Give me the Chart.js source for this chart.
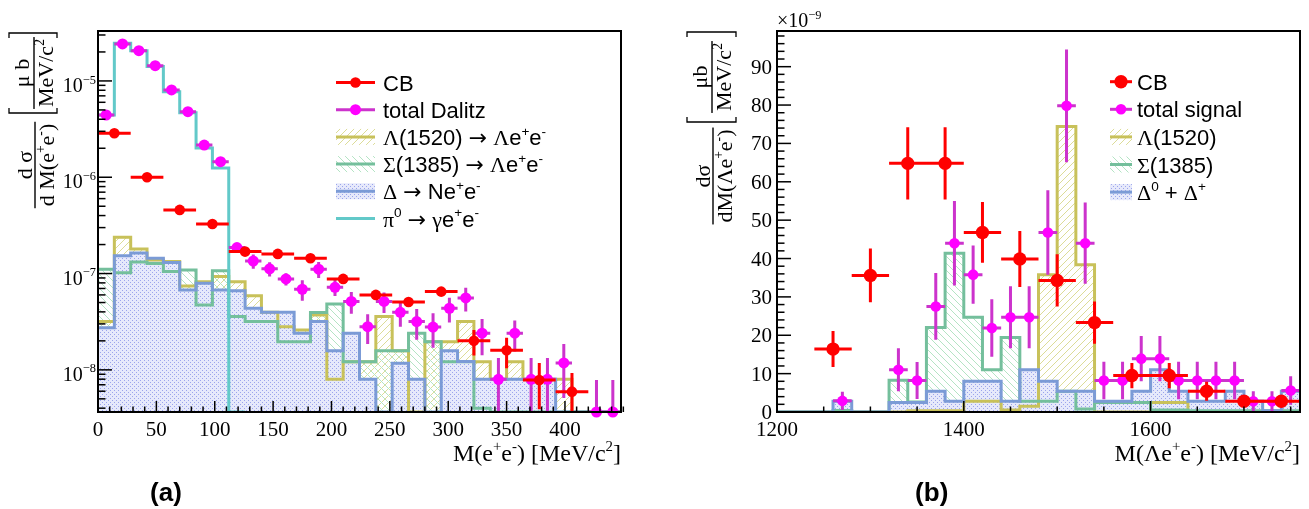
<!DOCTYPE html>
<html>
<head>
<meta charset="utf-8">
<script src="https://cdn.jsdelivr.net/npm/chart.js@4.4.1/dist/chart.umd.min.js"></script>
<style>
  html, body { margin: 0; padding: 0; background: #fff; overflow: hidden; }
  #wrap { position: relative; width: 1309px; height: 509px; }
  canvas { position: absolute; top: 0; }
</style>
</head>
<body>
<div id="wrap">
  <canvas id="ca" width="655" height="509" style="left:0"></canvas>
  <canvas id="cb" width="654" height="509" style="left:655px"></canvas>
</div>
<script>
const SERIF = '"Liberation Serif", "DejaVu Serif", serif';
const SANS = '"Liberation Sans", Arial, sans-serif';
const ARROW = '"DejaVu Sans", sans-serif';

// ---------- panel (a): M(e+e-), 32 bins of 14 MeV ----------
const binWidthA = 14;
const cbWidthA = 28;
const dalitzA = [4.43e-6, 2.42e-5, 2.06e-5, 1.44e-5, 8.07e-6, 4.8e-6, 2.16e-6, 1.45e-6,
  1.86e-7, 1.35e-7, 1.12e-7, 8.8e-8, 6.87e-8, 1.11e-7, 7.2e-8, 5.13e-8,
  2.81e-8, 5.13e-8, 3.96e-8, 3.17e-8, 2.78e-8, 4.36e-8, 5.58e-8, 2.40e-8,
  7.98e-9, 2.40e-8, 7.98e-9, 7.98e-9, 1.18e-8, null, 0, 0];
const dalitzErrA = [0, 0, 0, 0, 0, 0, 0, 0,
  2.2e-8, 2.3e-8, 1.9e-8, 1.27e-8, 1.65e-8, 2.1e-8, 1.37e-8, 1.31e-8,
  0.96e-8, 1.24e-8, 1.15e-8, 1.12e-8, 1.08e-8, 1.25e-8, 1.55e-8, 0.98e-8,
  5.3e-9, 0.85e-8, 5.3e-9, 5.3e-9, 6.7e-9, 0, 7.85e-9, 7.85e-9];
const cbA = [2.86e-6, 1.0e-6, 4.58e-7, 3.27e-7, 1.69e-7, 1.60e-7, 1.44e-7, 8.8e-8,
  6.0e-8, 5.07e-8, 6.49e-8, 2.0e-8, 1.6e-8, 7.85e-9, 5.94e-9];
const cbErrA = [4e-8, 2e-8, 1.2e-8, 9e-9, 6e-9, 6e-9, 6e-9, 5e-9,
  5e-9, 5e-9, 6e-9, 5.9e-9, 5.6e-9, 3.95e-9, 3.35e-9];
const lambdaA = [3.17e-8, 2.38e-7, 1.80e-7, 1.38e-7, 1.33e-7, 7.43e-8, 8.24e-8, 9.3e-8,
  8.24e-8, 5.89e-8, 3.96e-8, 2.81e-8, 2.59e-8, 3.72e-8, 7.98e-9, 1.21e-8,
  1.21e-8, 3.57e-8, 1.58e-8, 0, 1.96e-8, 1.96e-8, 3.17e-8, 1.21e-8,
  7.98e-9, 1.21e-8, 7.98e-9, 7.98e-9, 7.98e-9, 0, 0, 0];
const sigmaA = [1.11e-7, 1.02e-7, 1.32e-7, 1.27e-7, 1.05e-7, 1.09e-7, 4.72e-8, 1.07e-7,
  3.57e-8, 3.17e-8, 3.17e-8, 1.96e-8, 1.96e-8, 3.93e-8, 4.83e-8, 1.21e-8,
  1.21e-8, 1.58e-8, 1.58e-8, 2.40e-8, 1.96e-8, 1.21e-8, 1.21e-8, 4.0e-9,
  0, 0, 0, 0, 0, 0, 0, 0];
const deltaA = [2.74e-8, 1.53e-7, 1.63e-7, 1.44e-7, 1.30e-7, 6.76e-8, 7.93e-8, 6.76e-8,
  6.64e-8, 4.36e-8, 3.96e-8, 3.96e-8, 2.40e-8, 3.17e-8, 1.58e-8, 2.40e-8,
  7.98e-9, 0, 1.17e-8, 7.98e-9, 0, 1.58e-8, 1.22e-8, 7.98e-9,
  7.98e-9, 7.98e-9, 7.98e-9, 7.98e-9, 0, 0, 0, 0];
const pi0A = [4.43e-6, 2.46e-5, 2.06e-5, 1.41e-5, 7.74e-6, 4.66e-6, 2.01e-6, 1.25e-6, 0];
const xTicksA = [0, 50, 100, 150, 200, 250, 300, 350, 400];
const yDecadesA = [-8, -7, -6, -5];
const yMinA = 3.65e-9, yMaxA = 3.3e-5;

// ---------- panel (b): M(Λe+e-), 28 bins of 20 MeV from 1200 ----------
const loB = 1200;
const binWidthB = 20;
const cbLoB = 1240;
const cbWidthB = 40;
const signalB = [null, null, null, 2.9, null, null, 11.0, 8.2, 27.5, 44.0, 35.8, 21.9, 24.7, 24.7,
  46.8, 79.8, 44.0, 8.2, 8.2, 13.9, 13.9, 8.2, 8.2, 8.2, 8.2, 2.8, 2.8, 5.6];
const signalErrB = [0, 0, 0, 2.4, 0, 0, 5.6, 4.8, 8.7, 11.0, 7.6, 7.5, 8.1, 8.1,
  11.0, 14.7, 10.6, 4.9, 4.9, 5.9, 5.9, 4.9, 4.9, 4.9, 4.9, 2.6, 2.6, 3.7];
const cbB = [16.4, 35.6, 64.8, 64.8, 46.8, 39.9, 34.3, 23.3, 9.5, 9.5, 5.4, 2.8, 2.8];
const cbErrB = [4.7, 7.0, 9.4, 9.4, 7.9, 7.3, 6.8, 5.5, 3.3, 3.3, 2.5, 1.0, 1.0];
const lambdaB = [0, 0, 0, 0, 0, 0, 0, 0.3, 0.3, 0.3, 2.8, 2.8, 0.5, 1.5,
  35.8, 74.4, 38.4, 0, 0, 0, 2.5, 2.5, 0, 0, 0, 0, 0, 0];
const sigmaB = [0, 0, 0, 0.4, 0, 0, 8.25, 2.6, 22.0, 41.4, 24.7, 11.0, 19.4, 2.8,
  2.8, 5.4, 0.8, 2.5, 2.5, 2.5, 0.5, 0.5, 0.3, 0.3, 0.3, 0.3, 0.3, 0.3];
const deltaB = [0, 0, 0, 2.8, 0, 0, 2.5, 2.5, 5.4, 2.8, 8.0, 8.0, 2.8, 11.0,
  8.0, 5.4, 5.4, 2.8, 2.8, 5.4, 11.0, 5.4, 2.8, 2.8, 5.4, 2.8, 0.3, 5.4];
const xTicksB = [1200, 1400, 1600];
const yTicksB = [0, 10, 20, 30, 40, 50, 60, 70, 80, 90];
const xMaxB = 1760, yMaxB = 99.3;

// ---------- colours ----------
const RED = '#ff0000', MAG = '#ff00ff', MAG_BAR = '#cc33cc';
const OLIVE = '#c8c15a', GREEN = '#74bf9c', BLUE = '#7b9bd6', CYAN = '#62c9c9';

function hatch(color, dir) {
  const c = document.createElement('canvas');
  c.width = c.height = 7;
  const g = c.getContext('2d');
  g.strokeStyle = color; g.lineWidth = 1;
  g.beginPath();
  if (dir > 0) {
    g.moveTo(-1, 8); g.lineTo(8, -1);
  } else {
    g.moveTo(-1, -1); g.lineTo(8, 8);
  }
  g.stroke();
  return g.createPattern(c, 'repeat');
}
function dots() {
  const c = document.createElement('canvas');
  c.width = c.height = 4;
  const g = c.getContext('2d');
  g.fillStyle = '#e6e9fb'; g.fillRect(0, 0, 4, 4);
  g.fillStyle = '#9ba4ec';
  g.fillRect(0, 0, 1, 1); g.fillRect(2, 2, 1, 1);
  return g.createPattern(c, 'repeat');
}

// ---------- rich text helpers ----------
const SERIF_CHARS = /[ΛΣΔπγσμ]/;
function parseRich(str) {
  const out = [];
  let i = 0;
  while (i < str.length) {
    if (str[i] === '^' && str[i + 1] === '{') {
      const j = str.indexOf('}', i);
      out.push({ t: str.slice(i + 2, j), sup: true });
      i = j + 1;
    } else {
      let j = i;
      while (j < str.length && !(str[j] === '^' && str[j + 1] === '{')) j++;
      out.push({ t: str.slice(i, j), sup: false });
      i = j;
    }
  }
  return out;
}
function richRuns(ctx, str, size, family) {
  const res = [];
  parseRich(str).forEach(seg => {
    for (const ch of seg.t) {
      const fam = ch === '→' ? ARROW : SERIF_CHARS.test(ch) ? SERIF : family;
      const last = res[res.length - 1];
      if (last && last.fam === fam && last.sup === seg.sup) last.t += ch;
      else res.push({ t: ch, fam, sup: seg.sup, size: seg.sup ? size * 0.62 : size });
    }
  });
  res.forEach(r => { ctx.font = r.size + 'px ' + r.fam; r.w = ctx.measureText(r.t).width; });
  return res;
}
function richWidth(ctx, str, size, family) {
  return richRuns(ctx, str, size, family).reduce((s, r) => s + r.w, 0);
}
function drawRich(ctx, str, x, y, size, family, align, bold) {
  const rs = richRuns(ctx, str, size, family);
  const w = rs.reduce((s, r) => s + r.w, 0);
  let cx = align === 'right' ? x - w : align === 'center' ? x - w / 2 : x;
  ctx.textAlign = 'left';
  ctx.textBaseline = 'alphabetic';
  rs.forEach(r => {
    ctx.font = (bold ? 'bold ' : '') + r.size + 'px ' + r.fam;
    ctx.fillText(r.t, cx, r.sup ? y - size * 0.42 : y);
    cx += r.w;
  });
}
// vertical fraction, read bottom to top; px = page x of the fraction bar
function fracRot(ctx, px, cy, num, den, size, numOff, denOff) {
  ctx.save();
  ctx.translate(px, cy);
  ctx.rotate(-Math.PI / 2);
  const L = Math.max(richWidth(ctx, num, size, SERIF), richWidth(ctx, den, size, SERIF)) + 4;
  ctx.fillRect(-L / 2, -0.7, L, 1.4);
  drawRich(ctx, num, 0, -numOff, size, SERIF, 'center');
  drawRich(ctx, den, 0, denOff, size, SERIF, 'center');
  ctx.restore();
}
function bracket(ctx, y, x0, x1, dir) {
  ctx.beginPath();
  ctx.moveTo(x0, y + 5 * dir); ctx.lineTo(x0, y); ctx.lineTo(x1, y); ctx.lineTo(x1, y + 5 * dir);
  ctx.stroke();
}

// ---------- dataset builders ----------
function histData(vals, lo, w, floor) {
  const pts = vals.map((v, k) => ({ x: lo + k * w, y: v > 0 ? v : floor }));
  pts.push({ x: lo + vals.length * w, y: pts[pts.length - 1].y });
  return pts;
}
function pointData(vals, errs, lo, w, floor) {
  const out = [];
  vals.forEach((v, k) => {
    if (v === null) return;
    out.push({ x: lo + (k + 0.5) * w, y: v > 0 ? v : floor, v: v, err: errs[k], xerr: w / 2 });
  });
  return out;
}
function histSet(label, vals, lo, w, floor, color, fillPat, order, kind) {
  return {
    label, data: histData(vals, lo, w, floor), stepped: 'before',
    borderColor: color, borderWidth: 3, backgroundColor: fillPat || 'transparent',
    fill: fillPat ? 'start' : false, pointRadius: 0, order, legendKind: kind
  };
}
function pointSet(label, data, color, barColor, r, order) {
  return {
    label, data, showLine: false, pointRadius: r, pointHoverRadius: r,
    pointBackgroundColor: color, pointBorderWidth: 0, borderColor: color,
    errColor: barColor, errWidth: 3, clip: false, order, legendKind: 'point'
  };
}

// error bars drawn under the markers of each point dataset
const errorBars = {
  id: 'errorBars',
  beforeDatasetDraw(chart, args) {
    const ds = chart.data.datasets[args.index];
    if (!ds.errColor) return;
    const { ctx, chartArea: a, scales: { x, y } } = chart;
    ctx.save();
    ctx.beginPath();
    ctx.rect(a.left, a.top - 2, a.right - a.left, a.bottom - a.top + 2);
    ctx.clip();
    ctx.strokeStyle = ds.errColor;
    ctx.lineWidth = ds.errWidth;
    ctx.beginPath();
    ds.data.forEach(p => {
      const px = x.getPixelForValue(p.x), py = y.getPixelForValue(p.y);
      ctx.moveTo(x.getPixelForValue(p.x - p.xerr), py);
      ctx.lineTo(x.getPixelForValue(p.x + p.xerr), py);
      if (p.err > 0) {
        const low = p.v - p.err;
        const yl = low > 0 ? Math.min(y.getPixelForValue(low), a.bottom) : a.bottom;
        ctx.moveTo(px, yl);
        ctx.lineTo(px, y.getPixelForValue(p.v + p.err));
      }
    });
    ctx.stroke();
    ctx.restore();
  }
};

// ROOT-like frame, inward ticks, labels, legend and titles
function rootPanel(cfg) {
  return {
    id: 'rootPanel',
    afterDraw(chart) {
      const { ctx, chartArea: a, scales: { x, y } } = chart;
      ctx.save();
      ctx.strokeStyle = '#000';
      ctx.fillStyle = '#000';
      ctx.lineWidth = 1.5;
      const seg = (x0, y0, x1, y1) => { ctx.beginPath(); ctx.moveTo(x0, y0); ctx.lineTo(x1, y1); ctx.stroke(); };

      const nx = Math.round((x.max - x.min) / cfg.xMinor);
      for (let i = 0; i <= nx; i++) {
        const v = x.min + i * cfg.xMinor;
        const px = x.getPixelForValue(v);
        seg(px, a.bottom, px, a.bottom - (cfg.xTicks.includes(v) ? 11 : 5.5));
      }
      cfg.yTickList(y).forEach(t => {
        const py = y.getPixelForValue(t.v);
        seg(a.left, py, a.left + (t.major ? 14 : 7.5), py);
      });

      ctx.lineWidth = 2;
      ctx.strokeRect(a.left, a.top, a.right - a.left, a.bottom - a.top);

      ctx.font = '21px ' + SERIF;
      ctx.textAlign = 'center';
      ctx.textBaseline = 'alphabetic';
      cfg.xTicks.forEach(v => ctx.fillText(String(v), x.getPixelForValue(v), a.bottom + 24));
      cfg.yLabels(ctx, y, a);

      // legend
      const L = cfg.legend;
      L.rows.forEach((idx, r) => {
        const ds = chart.data.datasets[idx];
        const cy = L.y0 + r * L.dy;
        ctx.lineWidth = 3;
        if (ds.legendKind === 'point') {
          ctx.strokeStyle = ds.errColor;
          seg(L.x0, cy, L.x1, cy);
          ctx.fillStyle = ds.pointBackgroundColor;
          ctx.beginPath(); ctx.arc((L.x0 + L.x1) / 2, cy, ds.pointRadius, 0, Math.PI * 2); ctx.fill();
        } else {
          if (ds.legendKind === 'fill') {
            ctx.fillStyle = ds.backgroundColor;
            ctx.fillRect(L.x0, cy - 8, L.x1 - L.x0, 16);
          }
          ctx.strokeStyle = ds.borderColor;
          seg(L.x0, cy, L.x1, cy);
        }
        ctx.fillStyle = '#000';
        drawRich(ctx, ds.label, L.tx, cy + 8, 22, SANS, 'left');
      });

      ctx.fillStyle = '#000';
      ctx.strokeStyle = '#000';
      ctx.lineWidth = 1.3;
      cfg.titles(ctx, a);
      ctx.restore();
    }
  };
}

function baseOptions(padding, xs, ys) {
  return {
    responsive: false, animation: false, devicePixelRatio: 1,
    layout: { padding },
    plugins: { legend: { display: false }, tooltip: { enabled: false }, filler: { drawTime: 'beforeDatasetsDraw' } },
    scales: { x: xs, y: ys },
    elements: { line: { tension: 0 } }
  };
}

// ---------- chart (a) ----------
const patLambda = hatch('#dcdc98', 1);
const patSigma = hatch('#b4e4c4', -1);
const patDelta = dots();

new Chart(document.getElementById('ca'), {
  type: 'line',
  data: {
    datasets: [
      pointSet('CB', pointData(cbA, cbErrA, 0, cbWidthA, yMinA), RED, RED, 5.3, 0),
      pointSet('total Dalitz', pointData(dalitzA, dalitzErrA, 0, binWidthA, yMinA), MAG, MAG_BAR, 5.5, 1),
      histSet('Λ(1520) → Λe^{+}e^{-}', lambdaA, 0, binWidthA, yMinA, OLIVE, patLambda, 5, 'fill'),
      histSet('Σ(1385) → Λe^{+}e^{-}', sigmaA, 0, binWidthA, yMinA, GREEN, patSigma, 4, 'fill'),
      histSet('Δ → Ne^{+}e^{-}', deltaA, 0, binWidthA, yMinA, BLUE, patDelta, 3, 'fill'),
      histSet('π^{0} → γe^{+}e^{-}', pi0A, 0, binWidthA, yMinA, CYAN, null, 2, 'line')
    ]
  },
  options: baseOptions({ left: 98, top: 31, right: 34, bottom: 97 },
    { type: 'linear', min: 0, max: 448, display: false },
    { type: 'logarithmic', min: yMinA, max: yMaxA, display: false }),
  plugins: [errorBars, rootPanel({
    xTicks: xTicksA, xMinor: 10,
    yTickList(y) {
      const list = [];
      for (let n = -9; n <= -5; n++) for (let m = 1; m <= 9; m++) {
        const v = m * Math.pow(10, n);
        if (v >= y.min && v <= y.max) list.push({ v, major: m === 1 });
      }
      return list;
    },
    yLabels(ctx, y, a) {
      yDecadesA.forEach(n => drawRich(ctx, '10^{−' + (-n) + '}', a.left - 2, y.getPixelForValue(Math.pow(10, n)) + 11, 20, SERIF, 'right'));
    },
    legend: { rows: [0, 1, 2, 3, 4, 5], x0: 336, x1: 375, tx: 383, y0: 82.5, dy: 27.2 },
    titles(ctx, a) {
      fracRot(ctx, 35, 165, 'd σ', 'd M(e^{+}e^{-})', 22, 3, 19);
      fracRot(ctx, 34, 73, 'μ b', 'MeV/c^{2}', 22, 5, 19);
      bracket(ctx, 113, 9, 57, -1);
      bracket(ctx, 33, 9, 57, 1);
      drawRich(ctx, 'M(e^{+}e^{-}) [MeV/c^{2}]', a.right, 461, 24, SERIF, 'right');
      drawRich(ctx, '(a)', 166, 501, 26, SANS, 'center', true);
    }
  })]
});

// ---------- chart (b) ----------
new Chart(document.getElementById('cb'), {
  type: 'line',
  data: {
    datasets: [
      pointSet('CB', pointData(cbB, cbErrB, cbLoB, cbWidthB, 0), RED, RED, 6.7, 0),
      pointSet('total signal', pointData(signalB, signalErrB, loB, binWidthB, 0), MAG, MAG_BAR, 5.3, 1),
      histSet('Λ(1520)', lambdaB, loB, binWidthB, 0, OLIVE, patLambda, 5, 'fill'),
      histSet('Σ(1385)', sigmaB, loB, binWidthB, 0, GREEN, patSigma, 4, 'fill'),
      histSet('Δ^{0} + Δ^{+}', deltaB, loB, binWidthB, 0, BLUE, patDelta, 3, 'fill')
    ]
  },
  options: baseOptions({ left: 122, top: 31, right: 9, bottom: 97 },
    { type: 'linear', min: loB, max: xMaxB, display: false },
    { type: 'linear', min: 0, max: yMaxB, display: false }),
  plugins: [errorBars, rootPanel({
    xTicks: xTicksB, xMinor: 50,
    yTickList(y) {
      const list = [];
      for (let v = 0; v <= y.max; v += 2) list.push({ v, major: v % 10 === 0 });
      return list;
    },
    yLabels(ctx, y, a) {
      ctx.font = '21px ' + SERIF;
      ctx.textAlign = 'right';
      yTicksB.forEach(v => ctx.fillText(String(v), a.left - 5, y.getPixelForValue(v) + 7));
    },
    legend: { rows: [0, 1, 2, 3, 4], x0: 455, x1: 477, tx: 482, y0: 81.7, dy: 27.6 },
    titles(ctx, a) {
      fracRot(ctx, 58, 176, 'dσ', 'dM(Λe^{+}e^{-})', 22, 3, 19);
      fracRot(ctx, 57, 77, 'μb', 'MeV/c^{2}', 22, 5, 19);
      bracket(ctx, 122, 32, 81, -1);
      bracket(ctx, 32, 32, 81, 1);
      drawRich(ctx, '×10^{−9}', a.left, 27, 20, SERIF, 'left');
      drawRich(ctx, 'M(Λe^{+}e^{-}) [MeV/c^{2}]', a.right, 461, 24, SERIF, 'right');
      drawRich(ctx, '(b)', 276, 501, 26, SANS, 'center', true);
    }
  })]
});
</script>
</body>
</html>
